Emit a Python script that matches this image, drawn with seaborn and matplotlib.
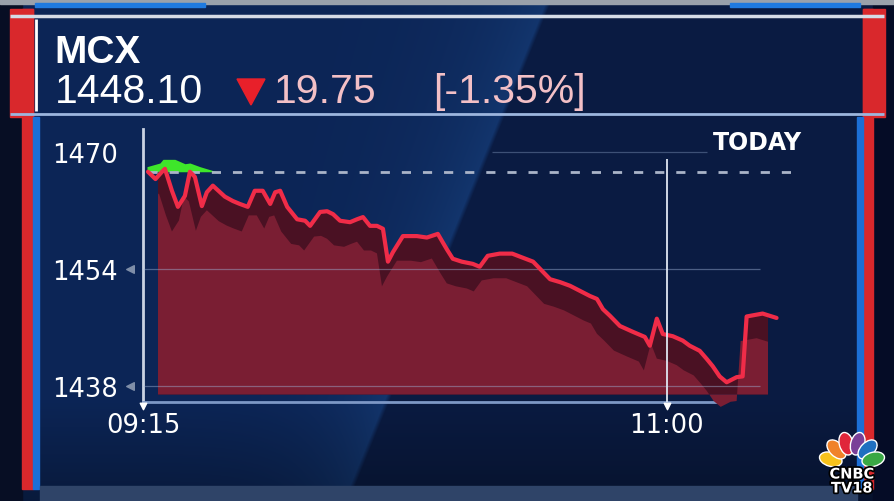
import numpy as np
import pandas as pd
import matplotlib
matplotlib.use("Agg")
import matplotlib.pyplot as plt
import matplotlib.transforms as mtransforms
import matplotlib.patheffects as pe
import seaborn as sns
from matplotlib.patches import Rectangle, Polygon, Ellipse
from matplotlib.ticker import FixedLocator

# minutes after 09:15 and the MCX price
minutes = [1.0, 2.5, 3.8, 4.4, 5.8, 7.0, 8.4, 9.4, 10.4, 11.8, 12.8, 14.0, 16.4, 18.0,
           19.4, 21.0, 22.4, 24.0, 25.5, 26.5, 27.5, 28.9, 30.9, 32.5, 33.5, 35.5,
           36.9, 38.1, 39.5, 41.5, 42.9, 44.1, 45.5, 46.9, 48.1, 49.1, 50.1, 52.1,
           54.9, 56.9, 59.1, 60.9, 62.1, 63.9, 66.1, 67.5, 69.1, 71.5, 74.0, 78.2,
           81.6, 83.6, 85.6, 89.6, 91.0, 92.2, 93.6, 95.6, 98.2, 100.6, 101.6, 103.0,
           104.2, 106.2, 108.2, 109.6, 111.6, 113.0, 114.2, 115.6, 117.0, 119.0,
           120.2, 121.0, 124.2, 127.0]
prices = [1467.3, 1466.3, 1467.3, 1467.7, 1464.7, 1462.5, 1464.0, 1467.3, 1466.6,
          1462.6, 1464.5, 1465.4, 1463.9, 1463.3, 1462.9, 1462.5, 1464.7, 1464.7,
          1462.9, 1464.5, 1464.7, 1462.5, 1460.8, 1460.6, 1459.9, 1461.8, 1461.9,
          1461.5, 1460.6, 1460.4, 1460.8, 1461.1, 1459.9, 1459.9, 1459.5, 1455.0,
          1456.3, 1458.5, 1458.5, 1458.3, 1458.8, 1456.7, 1455.4, 1455.0, 1454.7,
          1454.3, 1455.8, 1456.1, 1456.1, 1455.0, 1452.6, 1452.2, 1451.7, 1450.3,
          1449.9, 1448.5, 1447.6, 1446.2, 1445.4, 1444.7, 1443.5, 1447.2, 1445.1,
          1444.8, 1444.2, 1443.5, 1442.8, 1441.7, 1440.7, 1439.3, 1438.5, 1439.2,
          1439.3, 1447.5, 1447.9, 1447.3]

# the green patch above the previous close, just after the open
green_minutes = [0.8, 3.4, 4.0, 6.4, 8.4, 9.4, 11.4, 14.8]
green_prices = [1468.0, 1468.5, 1469.0, 1469.0, 1468.4, 1468.5, 1468.0, 1467.3]

prev_close_level = 1467.3
y_ticks = [1438, 1454, 1470]
x_ticks = [0, 105]
x_tick_labels = ["09:15", "11:00"]

ticker_name = "MCX"
last_price = "1448.10"
change = "19.75"
change_pct = "[-1.35%]"

W, H = 894, 502
sns.set_style("white")
plt.rcParams['font.family'] = ['DejaVu Sans']

fig = plt.figure(figsize=(W / 100, H / 100), dpi=100)

# ---- background panel (pixel coords) ----
bg = fig.add_axes([0, 0, 1, 1])
bg.set_xlim(0, W)
bg.set_ylim(H, 0)
bg.axis('off')

yy, xx = np.mgrid[0:H, 0:W].astype(float)
edge = 503 - 0.405 * (yy - 120)
left = np.clip((edge - xx) / 5, 0, 1)
sheen = np.clip(xx / edge, 0, 1) ** 7
c_right = np.array([10, 27, 66]) / 255
c_left0 = np.array([12, 37, 86]) / 255
c_left1 = np.array([19, 54, 110]) / 255
cl = c_left0 + (c_left1 - c_left0) * sheen[..., None]
img = c_right + (cl - c_right) * left[..., None]
img *= (1 - 0.3 * np.clip((yy - 400) / 100, 0, 1))[..., None]
bg.imshow(np.clip(img, 0, 1), extent=[0, W, H, 0], aspect='auto', zorder=0)

# frame pieces
bg.add_patch(Rectangle((0, 0), 22, H, color='#070e24', zorder=1))
bg.add_patch(Rectangle((873, 0), W - 873, H, color='#050c26', zorder=1))
bg.add_patch(Rectangle((0, 0), W, 5, color='#9aa1ab', zorder=2))
bg.add_patch(Rectangle((35, 4), 170, 4, color='#1f7ae0', zorder=2))
bg.add_patch(Rectangle((730, 4), 130, 4, color='#1f7ae0', zorder=2))
bg.add_patch(Rectangle((22, 10), 11, 480, color='#d9282c', zorder=2))
bg.add_patch(Rectangle((10, 10), 23, 108, color='#d9282c', zorder=2))
bg.add_patch(Rectangle((863, 10), 10, 480, color='#d9282c', zorder=2))
bg.add_patch(Rectangle((863, 10), 22, 108, color='#d9282c', zorder=2))
bg.add_patch(Rectangle((33, 118), 6, 372, color='#1c6fd6', zorder=2))
bg.add_patch(Rectangle((857, 118), 6, 372, color='#1c6fd6', zorder=2))
bg.add_patch(Rectangle((40, 487), 817, 15, color='#2f4468', zorder=2))
bg.hlines(17, 10, 884, color='#d5dbe6', lw=2.5, zorder=3)
bg.hlines(115, 10, 884, color='#9db6de', lw=2, zorder=3)
bg.vlines(36, 20, 112, color='white', lw=2, zorder=3)

# header
bg.text(54, 63, ticker_name, fontsize=28, weight='bold', family='Liberation Sans',
        color='white', va='baseline', zorder=4)
bg.text(55, 103, last_price, fontsize=29.5, family='Liberation Sans',
        color='white', va='baseline', zorder=4)
bg.add_patch(Polygon([(237, 80), (265, 80), (251, 106)], color='#e8202a', zorder=4))
bg.text(274, 103, change, fontsize=29.5, family='Liberation Sans',
        color='#f3c0c6', va='baseline', zorder=4)
bg.text(433, 103, change_pct, fontsize=29.5, family='Liberation Sans',
        color='#f3c0c6', va='baseline', zorder=4)

bg.text(757, 143, "TODAY", fontsize=17, weight='bold', color='white',
        ha='center', va='center', zorder=4)

# peacock logo
petal_colors = ['#f7c21b', '#f0822a', '#e0263a', '#7a3f98', '#1f6fc0', '#3aa845']
for a, c in zip([165, 135, 105, 75, 45, 15], petal_colors):
    r = np.radians(a)
    bg.add_patch(Ellipse((852 + 22 * np.cos(r), 466 - 22 * np.sin(r)), 23, 14,
                         angle=-a, facecolor=c, edgecolor='white', lw=1, zorder=5))
stroke = [pe.withStroke(linewidth=2.5, foreground='black')]
bg.text(852, 475, "CNBC", fontsize=10.5, weight='bold', color='white', ha='center',
        va='center', path_effects=stroke, zorder=6)
bg.text(852, 489, "TV18", fontsize=10.5, weight='bold', color='white', ha='center',
        va='center', path_effects=stroke, zorder=6)

# ---- the chart ----
df = pd.DataFrame({'minute': minutes, 'price': prices})
t = df['minute'].to_numpy()
p = df['price'].to_numpy()

ax = fig.add_axes([143 / W, (H - 403) / H, 657 / W, 273 / H])
ax.set_facecolor('none')
ax.set_xlim(0, 131.7)
ax.set_ylim(1435.8, 1473.15)

base = 1436.9
clip = Rectangle((3, 1430), 122, 50, transform=ax.transData)
wall = ax.fill_between(t, p, base, color='#4a1123', lw=0, zorder=2)
face = ax.fill_between(t - 1.3, p - 3.3, base, color='#7a1e33', lw=0, zorder=3)
for coll in (wall, face):
    coll.set_clip_path(clip)

ax.fill_between(green_minutes, prev_close_level, green_prices, color='#3ee62a',
                lw=0, zorder=4)

ax.hlines([1454, 1438], 0, 123.6, color='#9fb4d8', lw=0.9, alpha=0.45, zorder=4.5)
ax.hlines(1470, 70, 113, color='#9fb4d8', lw=0.9, alpha=0.35, zorder=4.5)

sns.lineplot(data=df, x='minute', y='price', ax=ax, color='#f02c48', lw=3,
             zorder=5, sort=False)
ax.set_xlabel('')
ax.set_ylabel('')

ax.axhline(prev_close_level, 0.008, 0.998, color='#aab4c8', lw=2,
           dashes=(3.3, 4.3), zorder=4.8)
ax.vlines(105, 1435.8, 1469.0, color='#dfe6f2', lw=1.3, zorder=6)

for s in ['top', 'right']:
    ax.spines[s].set_visible(False)
ax.spines['left'].set_color('#c9d2e3')
ax.spines['left'].set_linewidth(2)
ax.spines['bottom'].set_color('#7d98c6')
ax.spines['bottom'].set_linewidth(2)
ax.spines['bottom'].set_bounds(0, 115.5)

ax.set_yticks(y_ticks)
ax.set_yticklabels([str(v) for v in y_ticks])
ax.set_xticks(x_ticks)
ax.set_xticklabels(x_tick_labels)
ax.yaxis.set_minor_locator(FixedLocator(np.arange(1437.5, 1473, 3.0)))
ax.xaxis.set_minor_locator(FixedLocator(np.arange(4.4, 116, 4.4)))
ax.tick_params(axis='y', which='major', length=0, pad=18, labelsize=18.5,
               labelcolor='white')
ax.tick_params(axis='x', which='major', length=0, pad=7, labelsize=18.5,
               labelcolor='white')
ax.tick_params(axis='y', which='minor', direction='in', length=5, width=1,
               color='#b0bbd0')
ax.tick_params(axis='x', which='minor', direction='in', length=5, width=1,
               color='#8fa6cc')

tr_y = mtransforms.blended_transform_factory(ax.transAxes, ax.transData)
ax.scatter([-0.02, -0.02], y_ticks[:2], marker='<', s=30, color='#7f8ea8',
           transform=tr_y, clip_on=False, zorder=7)
tr_x = mtransforms.blended_transform_factory(ax.transData, ax.transAxes)
ax.scatter(x_ticks, [-0.015, -0.015], marker='v', s=22, color='white',
           transform=tr_x, clip_on=False, zorder=7)

fig.savefig("out.png", dpi=100)
